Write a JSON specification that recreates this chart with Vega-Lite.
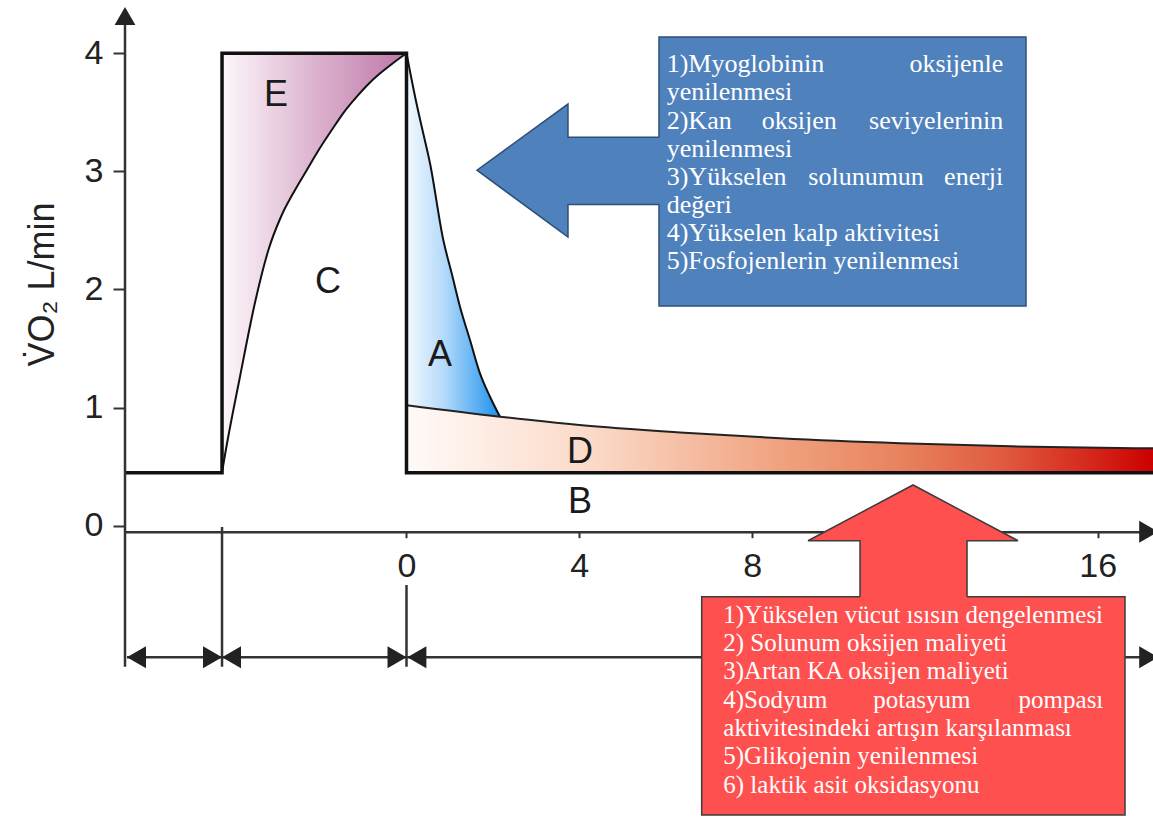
{
  "$schema": "https://vega.github.io/schema/vega-lite/v6.json",
  "width": 1028,
  "height": 821,
  "autosize": {"type": "none"},
  "padding": {"left": 125, "top": 0, "right": 0, "bottom": 0},
  "background": "white",
  "config": {"view": {"stroke": null}, "axis": {"grid": false}},
  "datasets": {
    "outline": [
      {"o": 1, "x": -6.516, "y": 0.449},
      {"o": 2, "x": -4.27, "y": 0.449},
      {"o": 3, "x": -4.27, "y": 4.0},
      {"o": 4, "x": 0, "y": 4.0},
      {"o": 5, "x": 0, "y": 0.449},
      {"o": 6, "x": 17.28, "y": 0.449}
    ],
    "ccurve": [
      {"x": -4.27, "y": 0.449},
      {"x": -4.22, "y": 0.56},
      {"x": -3.85, "y": 1.27},
      {"x": -3.5, "y": 1.9},
      {"x": -3.2, "y": 2.33},
      {"x": -2.9, "y": 2.62},
      {"x": -2.6, "y": 2.83},
      {"x": -2.31, "y": 3.01},
      {"x": -2.0, "y": 3.2},
      {"x": -1.73, "y": 3.35},
      {"x": -1.45, "y": 3.5},
      {"x": -1.15, "y": 3.633},
      {"x": -0.88, "y": 3.74},
      {"x": -0.61, "y": 3.83},
      {"x": -0.3, "y": 3.92},
      {"x": 0, "y": 4.0}
    ],
    "acurve": [
      {"x": 0, "y": 4.0, "y2": 1.02},
      {"x": 0.2, "y": 3.63, "y2": 1.011},
      {"x": 0.37, "y": 3.35, "y2": 1.003},
      {"x": 0.544, "y": 3.069, "y2": 0.996},
      {"x": 0.852, "y": 2.419, "y2": 0.982},
      {"x": 1.046, "y": 2.137, "y2": 0.973},
      {"x": 1.238, "y": 1.854, "y2": 0.964},
      {"x": 1.47, "y": 1.572, "y2": 0.954},
      {"x": 1.701, "y": 1.29, "y2": 0.944},
      {"x": 1.933, "y": 1.092, "y2": 0.933},
      {"x": 2.164, "y": 0.923, "y2": 0.923}
    ],
    "dcurve": [
      {"x": 0, "y": 1.02},
      {"x": 2.164, "y": 0.923},
      {"x": 4.0, "y": 0.853},
      {"x": 6.33, "y": 0.79},
      {"x": 8.65, "y": 0.74},
      {"x": 11.42, "y": 0.698},
      {"x": 14.0, "y": 0.672},
      {"x": 17.28, "y": 0.655}
    ],
    "rules": [
      {"x": -6.516, "y": -1.194, "x2": -6.516, "y2": 4.3},
      {"x": -4.27, "y": -0.011, "x2": -4.27, "y2": -1.194},
      {"x": 0, "y": -0.502, "x2": 0, "y2": -1.194},
      {"x": -6.47, "y": -1.113, "x2": 17.3, "y2": -1.113}
    ],
    "heads": [
      {"x": -6.516, "y": 4.392, "dir": "up"},
      {"x": 17.4, "y": -0.051, "dir": "right"},
      {"x": -6.47, "y": -1.113, "dir": "left"},
      {"x": -4.27, "y": -1.113, "dir": "right"},
      {"x": -4.27, "y": -1.113, "dir": "left"},
      {"x": 0, "y": -1.113, "dir": "right"},
      {"x": 0.02, "y": -1.113, "dir": "left"},
      {"x": 17.4, "y": -1.113, "dir": "right"}
    ],
    "letters": [
      {"t": "E", "x": -3.02, "y": 3.554},
      {"t": "C", "x": -1.817, "y": 1.969},
      {"t": "A", "x": 0.775, "y": 1.353},
      {"t": "D", "x": 4.016, "y": 0.531},
      {"t": "B", "x": 4.016, "y": 0.107}
    ],
    "boxes": [
      {"box": "blue", "x": 5.845, "x2": 14.34, "y": 4.138, "y2": 1.86},
      {"box": "red", "x": 6.833, "x2": 16.632, "y": -0.601, "y2": -2.45}
    ],
    "bluearrow": [
      {"x": 1.632, "y": 3.01, "y2": 3.01},
      {"x": 3.738, "y": 3.57, "y2": 2.444},
      {"x": 3.739, "y": 3.29, "y2": 2.72},
      {"x": 5.95, "y": 3.29, "y2": 2.72}
    ],
    "blueoutline": [
      {"o": 1, "x": 5.845, "y": 3.29},
      {"o": 2, "x": 3.738, "y": 3.29},
      {"o": 3, "x": 3.738, "y": 3.57},
      {"o": 4, "x": 1.632, "y": 3.01},
      {"o": 5, "x": 3.738, "y": 2.444},
      {"o": 6, "x": 3.738, "y": 2.72},
      {"o": 7, "x": 5.845, "y": 2.72}
    ],
    "redarrow": [
      {"y": -0.65, "x": 10.498, "x2": 12.975},
      {"y": -0.128, "x": 10.498, "x2": 12.975},
      {"y": -0.127, "x": 9.294, "x2": 14.155},
      {"y": 0.345, "x": 11.725, "x2": 11.725}
    ],
    "redoutline": [
      {"o": 1, "x": 10.498, "y": -0.601},
      {"o": 2, "x": 10.498, "y": -0.127},
      {"o": 3, "x": 9.294, "y": -0.127},
      {"o": 4, "x": 11.725, "y": 0.345},
      {"o": 5, "x": 14.155, "y": -0.127},
      {"o": 6, "x": 12.975, "y": -0.127},
      {"o": 7, "x": 12.975, "y": -0.601}
    ],
    "blueleft": [
      {"t": "1)Myoglobinin", "x": 6.023, "y": 3.839},
      {"t": "yenilenmesi", "x": 6.023, "y": 3.601},
      {"t": "2)Kan", "x": 6.023, "y": 3.362},
      {"t": "oksijen", "x": 8.222, "y": 3.362},
      {"t": "yenilenmesi", "x": 6.023, "y": 3.124},
      {"t": "3)Yükselen", "x": 6.023, "y": 2.886},
      {"t": "solunumun", "x": 9.301, "y": 2.886},
      {"t": "değeri", "x": 6.023, "y": 2.648},
      {"t": "4)Yükselen kalp aktivitesi", "x": 6.023, "y": 2.41},
      {"t": "5)Fosfojenlerin yenilenmesi", "x": 6.023, "y": 2.171}
    ],
    "blueright": [
      {"t": "oksijenle", "x": 13.815, "y": 3.839},
      {"t": "seviyelerinin", "x": 13.815, "y": 3.362},
      {"t": "enerji", "x": 13.815, "y": 2.886}
    ],
    "redleft": [
      {"t": "1)Yükselen vücut ısısın dengelenmesi", "x": 7.333, "y": -0.821},
      {"t": "2) Solunum oksijen maliyeti", "x": 7.333, "y": -1.061},
      {"t": "3)Artan KA oksijen maliyeti", "x": 7.333, "y": -1.301},
      {"t": "4)Sodyum", "x": 7.333, "y": -1.541},
      {"t": "potasyum", "x": 10.806, "y": -1.541},
      {"t": "aktivitesindeki artışın karşılanması", "x": 7.333, "y": -1.781},
      {"t": "5)Glikojenin yenilenmesi", "x": 7.333, "y": -2.02},
      {"t": "6) laktik asit oksidasyonu", "x": 7.333, "y": -2.261}
    ],
    "redright": [
      {"t": "pompası", "x": 16.13, "y": -1.541}
    ]
  },
  "encoding": {
    "x": {
      "field": "x", "type": "quantitative",
      "scale": {"domain": [-6.516, 17.28], "nice": false, "zero": false},
      "axis": {
        "values": [0, 4, 8, 12, 16], "offset": -289.3, "title": null,
        "domain": true, "domainColor": "#333", "domainWidth": 2.5,
        "tickSize": 6, "tickWidth": 2, "tickColor": "#333",
        "labelFont": "Liberation Sans", "labelFontSize": 34, "labelColor": "#222",
        "labelPadding": 12, "labelOverlap": false, "labelFlush": false, "grid": false
      }
    },
    "y": {
      "field": "y", "type": "quantitative",
      "scale": {"domain": [-2.5, 4.451], "nice": false, "zero": false},
      "axis": {
        "values": [0, 1, 2, 3, 4], "domain": false,
        "tickSize": 12, "tickWidth": 2, "tickColor": "#333",
        "labelFont": "Liberation Sans", "labelFontSize": 34, "labelColor": "#222",
        "labelPadding": 10, "labelOverlap": false, "grid": false,
        "title": "V\u0307O\u2082 L/min", "titleFont": "Liberation Sans", "titleFontSize": 36,
        "titleFontWeight": "normal", "titleColor": "#222",
        "titleX": -72, "titleY": 284, "titleAngle": -90, "titleAlign": "center", "titleBaseline": "alphabetic"
      }
    }
  },
  "layer": [
    {
      "data": {"name": "ccurve"},
      "mark": {"type": "area", "orient": "vertical", "interpolate": "monotone", "fill": {"gradient": "linear", "x1": 0, "y1": 0, "x2": 1, "y2": 0, "stops": [{"offset": 0, "color": "#fdf7fb"}, {"offset": 0.5, "color": "#dcb3cf"}, {"offset": 1, "color": "#bd78a8"}]}},
      "encoding": {"y2": {"datum": 4}}
    },
    {
      "data": {"name": "acurve"},
      "mark": {"type": "area", "orient": "vertical", "interpolate": "monotone", "fill": {"gradient": "linear", "x1": 0, "y1": 0, "x2": 1, "y2": 0, "stops": [{"offset": 0, "color": "#f2f9ff"}, {"offset": 0.4, "color": "#b5dafa"}, {"offset": 0.75, "color": "#5bb0f3"}, {"offset": 1, "color": "#1e8fe8"}]}},
      "encoding": {"y2": {"field": "y2"}}
    },
    {
      "data": {"name": "dcurve"},
      "mark": {"type": "area", "orient": "vertical", "interpolate": "monotone", "fill": {"gradient": "linear", "x1": 0, "y1": 0, "x2": 1, "y2": 0, "stops": [{"offset": 0, "color": "#fffaf7"}, {"offset": 0.25, "color": "#fbd9c8"}, {"offset": 0.5, "color": "#f0a27f"}, {"offset": 0.66, "color": "#e8835e"}, {"offset": 0.8, "color": "#e05a3f"}, {"offset": 0.92, "color": "#d4261a"}, {"offset": 1, "color": "#cc0000"}]}},
      "encoding": {"y2": {"datum": 0.449}}
    },
    {
      "data": {"name": "ccurve"},
      "mark": {"type": "line", "interpolate": "monotone", "color": "#111", "strokeWidth": 2}
    },
    {
      "data": {"name": "acurve"},
      "mark": {"type": "line", "interpolate": "monotone", "color": "#111", "strokeWidth": 2}
    },
    {
      "data": {"name": "dcurve"},
      "mark": {"type": "line", "interpolate": "monotone", "color": "#222", "strokeWidth": 2}
    },
    {
      "data": {"name": "outline"},
      "mark": {"type": "line", "color": "#111", "strokeWidth": 3.5, "strokeJoin": "miter"},
      "encoding": {"order": {"field": "o", "type": "quantitative"}}
    },
    {
      "data": {"name": "rules"},
      "mark": {"type": "rule", "color": "#333", "strokeWidth": 2.5},
      "encoding": {"x2": {"field": "x2"}, "y2": {"field": "y2"}}
    },
    {
      "data": {"name": "heads"},
      "mark": {"type": "point", "filled": true, "size": 1600, "color": "#222", "opacity": 1, "strokeWidth": 0},
      "encoding": {
        "shape": {"field": "dir", "type": "nominal", "legend": null,
          "scale": {"domain": ["right", "left", "up"], "range": ["M0,0L-0.95,-0.55L-0.95,0.55Z", "M0,0L0.95,-0.55L0.95,0.55Z", "M0,0L-0.52,0.9L0.52,0.9Z"]}}
      }
    },
    {
      "data": {"name": "letters"},
      "mark": {"type": "text", "align": "center", "baseline": "alphabetic", "font": "Liberation Sans", "fontSize": 36, "color": "#1a1a1a"},
      "encoding": {"text": {"field": "t"}}
    },
    {
      "data": {"name": "boxes"},
      "mark": {"type": "rect", "strokeWidth": 1.5},
      "encoding": {
        "x2": {"field": "x2"}, "y2": {"field": "y2"},
        "fill": {"field": "box", "type": "nominal", "legend": null, "scale": {"domain": ["blue", "red"], "range": ["#4f81bd", "#ff5050"]}},
        "stroke": {"field": "box", "type": "nominal", "legend": null, "scale": {"domain": ["blue", "red"], "range": ["#2d4f78", "#3c3c3c"]}}
      }
    },
    {
      "data": {"name": "bluearrow"},
      "mark": {"type": "area", "orient": "vertical", "color": "#4f81bd", "opacity": 1},
      "encoding": {"y2": {"field": "y2"}}
    },
    {
      "data": {"name": "blueoutline"},
      "mark": {"type": "line", "color": "#2d4f78", "strokeWidth": 1.5, "strokeJoin": "miter"},
      "encoding": {"order": {"field": "o", "type": "quantitative"}}
    },
    {
      "data": {"name": "redarrow"},
      "mark": {"type": "area", "orient": "horizontal", "color": "#ff5050", "opacity": 1},
      "encoding": {"x2": {"field": "x2"}}
    },
    {
      "data": {"name": "redoutline"},
      "mark": {"type": "line", "color": "#3c3c3c", "strokeWidth": 1.5, "strokeJoin": "miter"},
      "encoding": {"order": {"field": "o", "type": "quantitative"}}
    },
    {
      "data": {"name": "blueleft"},
      "mark": {"type": "text", "align": "left", "baseline": "alphabetic", "font": "Liberation Serif", "fontSize": 26, "color": "#ffffff"},
      "encoding": {"text": {"field": "t"}}
    },
    {
      "data": {"name": "blueright"},
      "mark": {"type": "text", "align": "right", "baseline": "alphabetic", "font": "Liberation Serif", "fontSize": 26, "color": "#ffffff"},
      "encoding": {"text": {"field": "t"}}
    },
    {
      "data": {"name": "redleft"},
      "mark": {"type": "text", "align": "left", "baseline": "alphabetic", "font": "Liberation Serif", "fontSize": 25, "color": "#ffffff"},
      "encoding": {"text": {"field": "t"}}
    },
    {
      "data": {"name": "redright"},
      "mark": {"type": "text", "align": "right", "baseline": "alphabetic", "font": "Liberation Serif", "fontSize": 25, "color": "#ffffff"},
      "encoding": {"text": {"field": "t"}}
    }
  ]
}
